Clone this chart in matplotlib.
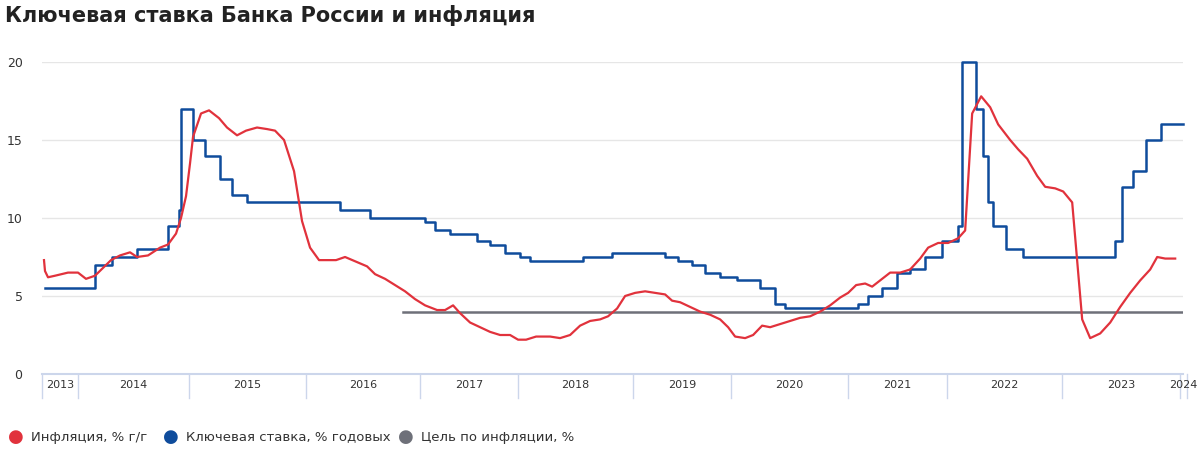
import matplotlib.pyplot as plt
import numpy as np

plt.rcParams["font.family"] = "DejaVu Sans"

# x is position along the (uneven) time axis as drawn in the reference
year_edges = [42, 78, 189, 306, 420, 518, 633, 731, 848, 947, 1062, 1180, 1187]
year_labels = ["2013", "2014", "2015", "2016", "2017", "2018", "2019",
               "2020", "2021", "2022", "2023", "2024"]

# key rate, step function: start positions and values
rate_x = [45, 95, 112, 137, 168, 179, 181, 193, 205, 220, 232, 247, 340, 370,
          425, 435, 450, 477, 490, 505, 520, 530, 583, 612, 665, 678, 692, 705,
          720, 737, 760, 775, 785, 858, 868, 882, 897, 910, 925, 942, 958, 962,
          976, 983, 988, 993, 1006, 1023, 1115, 1122, 1133, 1146, 1161, 1183]
rate_y = [5.5, 7.0, 7.5, 8.0, 9.5, 10.5, 17.0, 15.0, 14.0, 12.5, 11.5, 11.0,
          10.5, 10.0, 9.75, 9.25, 9.0, 8.5, 8.25, 7.75, 7.5, 7.25, 7.5, 7.75,
          7.5, 7.25, 7.0, 6.5, 6.25, 6.0, 5.5, 4.5, 4.25, 4.5, 5.0, 5.5, 6.5,
          6.75, 7.5, 8.5, 9.5, 20.0, 17.0, 14.0, 11.0, 9.5, 8.0, 7.5, 8.5,
          12.0, 13.0, 15.0, 16.0, 16.0]

infl_x = [44, 45, 48, 55, 68, 78, 86, 95, 103, 111, 120, 130, 137, 148, 160,
          168, 176, 181, 186, 190, 193, 201, 209, 219, 227, 237, 246, 257, 267,
          275, 284, 294, 302, 310, 319, 336, 345, 356, 367, 375, 385, 395, 405,
          415, 425, 437, 445, 453, 460, 470, 480, 490, 500, 510, 518, 526, 536,
          550, 560, 570, 580, 590, 600, 608, 617, 625, 635, 645, 655, 665, 672,
          680, 690, 700, 710, 720, 728, 735, 745, 753, 762, 770, 780, 790, 800,
          810, 820, 830, 840, 848, 856, 865, 872, 880, 890, 900, 910, 920, 928,
          938, 948, 958, 965, 972, 981, 990, 998, 1010, 1018, 1027, 1037, 1045,
          1055, 1063, 1072, 1082, 1090, 1100, 1110, 1120, 1130, 1140, 1150,
          1157, 1165, 1175]
infl_y = [7.3, 6.6, 6.2, 6.3, 6.5, 6.5, 6.1, 6.3, 6.8, 7.3, 7.6, 7.8, 7.5,
          7.6, 8.1, 8.3, 9.0, 10.0, 11.4, 13.5, 15.2, 16.7, 16.9, 16.4, 15.8,
          15.3, 15.6, 15.8, 15.7, 15.6, 15.0, 13.0, 9.8, 8.1, 7.3, 7.3, 7.5,
          7.2, 6.9, 6.4, 6.1, 5.7, 5.3, 4.8, 4.4, 4.1, 4.1, 4.4, 3.9, 3.3, 3.0,
          2.7, 2.5, 2.5, 2.2, 2.2, 2.4, 2.4, 2.3, 2.5, 3.1, 3.4, 3.5, 3.7, 4.2,
          5.0, 5.2, 5.3, 5.2, 5.1, 4.7, 4.6, 4.3, 4.0, 3.8, 3.5, 3.0, 2.4, 2.3,
          2.5, 3.1, 3.0, 3.2, 3.4, 3.6, 3.7, 4.0, 4.4, 4.9, 5.2, 5.7, 5.8, 5.6,
          6.0, 6.5, 6.5, 6.7, 7.4, 8.1, 8.4, 8.4, 8.7, 9.2, 16.7, 17.8, 17.1,
          16.0, 15.0, 14.4, 13.8, 12.7, 12.0, 11.9, 11.7, 11.0, 3.5, 2.3, 2.6,
          3.3, 4.3, 5.2, 6.0, 6.7, 7.5, 7.4, 7.4]

target_x = [403, 1183]
target_y = [4, 4]

RED = "#e1323c"
BLUE = "#0f4c9c"
GREY = "#6e7079"

fig = plt.figure(figsize=(12, 4.51), dpi=100)
ax = fig.add_axes([0.035, 1 - 374 / 451, 0.951, 312 / 451])

ax.plot(target_x, target_y, color=GREY, lw=1.8, zorder=2)
ax.step(rate_x, rate_y, where="post", color=BLUE, lw=1.8, zorder=3, clip_on=False)
ax.plot(infl_x, infl_y, color=RED, lw=1.6, zorder=4)

ax.set_xlim(42, 1183)
ax.set_ylim(0, 20)
ax.set_yticks([0, 5, 10, 15, 20])
ax.tick_params(axis="y", length=0, labelsize=9, colors="#333333", pad=14)
ax.grid(axis="y", color="#e6e6e6", lw=1)
ax.set_axisbelow(True)
for s in ["top", "right", "left"]:
    ax.spines[s].set_visible(False)
ax.spines["bottom"].set_color("#ccd6eb")
ax.spines["bottom"].set_linewidth(1.5)

ax.set_xticks([])
for e in year_edges:
    ax.plot([e, e], [0, -1.55], color="#ccd6eb", lw=1, clip_on=False)
for a, b, lab in zip(year_edges[:-1], year_edges[1:], year_labels):
    ax.text((a + b) / 2, -0.7, lab, ha="center", va="center", fontsize=8,
            color="#333333", clip_on=False)

fig.text(0.004, 0.965, "Ключевая ставка Банка России и инфляция",
         fontsize=15, fontweight="bold", va="center", color="#222222")

legend_items = [(RED, "Инфляция, % г/г"), (BLUE, "Ключевая ставка, % годовых"),
                (GREY, "Цель по инфляции, %")]
lx = [0.013, 0.142, 0.338]
for x0, (c, lab) in zip(lx, legend_items):
    fig.text(x0, 1 - 437 / 451, "●", color=c, fontsize=13, va="center", ha="center")
    fig.text(x0 + 0.013, 1 - 437 / 451, lab, fontsize=9.5, va="center", color="#333333")

fig.savefig("out.png")
